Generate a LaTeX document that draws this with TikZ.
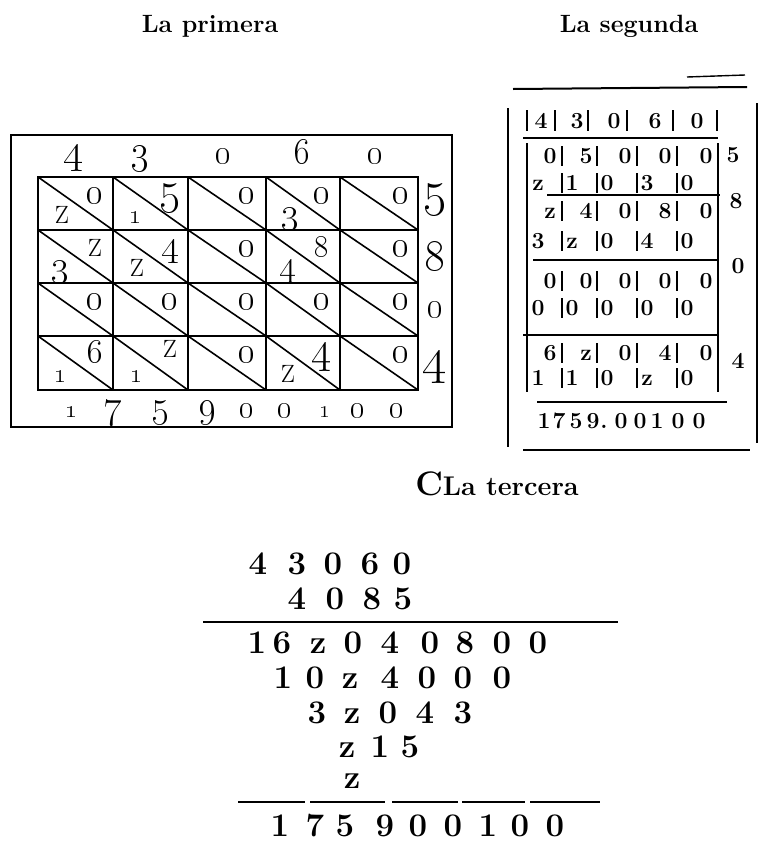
\RequirePackage{fix-cm}
\documentclass[tikz,border=0pt]{standalone}
\newcommand\osn[2]{{\fontsize{#1}{#1}\selectfont\oldstylenums{#2}}}
\tikzset{
  frame/.style={line width=2.6pt,line cap=rect},
  gridl/.style={line width=1.8pt,line cap=rect},
  diag/.style={line width=1.6pt},
  thinl/.style={line width=1.5pt},
  pdig/.style={anchor=base,inner sep=0pt},
  pz/.style={font=\fontsize{25}{25}\selectfont,anchor=base,inner sep=0pt},
  sdig/.style={font=\bfseries\fontsize{23}{23}\selectfont,anchor=base,inner sep=0pt},
  tdig/.style={font=\bfseries\fontsize{33}{33}\selectfont,anchor=base,inner sep=0pt},
  ttl/.style={font=\bfseries\fontsize{25}{25}\selectfont,anchor=base,inner sep=0pt},
}
\begin{document}
\begin{tikzpicture}[x=1pt,y=-1pt]
\useasboundingbox (0,0) rectangle (763,841);
\fill[white] (0,0) rectangle (763,841);

% ---------- titles ----------
\node[ttl] (t1) at (210,32) {La primera};
\node[ttl] (t2) at (629,32) {La segunda};
\node[ttl,font=\bfseries\fontsize{27}{27}\selectfont] (t3) at (497,495) {{\fontsize{34}{34}\selectfont C}La tercera};

% ---------- La primera ----------
\draw[frame] (11,135) rectangle (452,427);
\foreach \x in {38,113,188,266,340,418} \draw[gridl] (\x,177) -- (\x,390);
\foreach \y in {177,230,283,336,390} \draw[gridl] (38,\y) -- (418,\y);
\foreach \a/\b in {38/113,113/188,188/266,266/340,340/418}
  \foreach \c/\d in {177/230,230/283,283/336,336/390}
    \draw[diag] (\a,\c) -- (\b,\d);

\foreach \x/\s/\t [count=\i] in {73/42/4,140/40/3,223/34/0,302/36/6,375/34/0}
  \node[pdig] (pt\i) at (\x,163) {\osn{\s}{\t}};
\foreach \y/\s/\t [count=\i] in {205/50/5,270/44/8,317/36/0,373/52/4}
  \node[pdig] (pr\i) at (435,\y) {\osn{\s}{\t}};
\foreach \x/\s/\t [count=\i] in {72/26/1,113/40/7,160/38/5,207/38/9,247/31/0,285/31/0,325/24/1,358/31/0,397/31/0}
  \node[pdig] (pb\i) at (\x,417) {\osn{\s}{\t}};

% upper (units) digits
\foreach \x/\y/\s/\t [count=\i] in {
  95/203/35/0,170/203/46/5,247/203/35/0,322/203/35/0,401/203/35/0,
  170/256/38/4,247/256/35/0,322/256/30/8,401/256/35/0,
  95/309/35/0,170/309/35/0,247/309/35/0,322/309/35/0,401/309/35/0,
  95/362/33/6,247/362/35/0,322/362/44/4,401/362/35/0}
  \node[pdig] (pu\i) at (\x,\y) {\osn{\s}{\t}};
% lower (tens) digits
\foreach \x/\y/\s/\t [count=\i] in {
  135/223/28/1,290/223/37/3,
  60/276/37/3,288/276/37/4,
  60/382/28/1,136/382/28/1}
  \node[pdig] (pl\i) at (\x,\y) {\osn{\s}{\t}};
% the z-shaped twos
\foreach \x/\y [count=\i] in {62/223,95/256,137/276,170/357,288/382}
  \node[pz] (pz\i) at (\x,\y) {Z};

% ---------- La segunda ----------
\draw[line width=2pt] (513,89) -- (747,87);
\draw[line width=1.4pt] (687,77) -- (745,75);
\draw[line width=2pt] (508,108) -- (508,447);
\draw[line width=2pt] (757,103) -- (757,443);
\draw[line width=2pt] (523,450) -- (750,450);

\foreach \x in {527,555,588,627,673,717} \draw[thinl] (\x,110) -- (\x,131);
\foreach \x/\t [count=\i] in {541/4,577/3,614/0,655/6,697/0}
  \node[sdig] (st\i) at (\x,128) {\t};
\draw[thinl] (523,138) -- (718,138);
\draw[thinl] (547,195) -- (720,195);
\draw[thinl] (533,260) -- (717,260);
\draw[thinl] (523,335) -- (717,335);
\draw[thinl] (537,402) -- (727,402);
\draw[thinl] (527,143) -- (527,392);
\draw[thinl] (718,143) -- (718,392);
\foreach \yb in {163,190,218,248,288,315,360,385}
  \foreach \x in {562,597,637,677}
    \draw[thinl] (\x,\yb-17) -- (\x,\yb+3);

% upper rows
\foreach \x/\a/\b/\c/\d [count=\j] in {550/0/z/0/6,586/5/4/0/z,625/0/0/0/0,665/0/8/0/4,706/0/0/0/0} {
  \node[sdig] (su1-\j) at (\x,163) {\a};
  \node[sdig] (su2-\j) at (\x,218) {\b};
  \node[sdig] (su3-\j) at (\x,288) {\c};
  \node[sdig] (su4-\j) at (\x,360) {\d};
}
% lower rows
\foreach \x/\a/\b/\c/\d [count=\j] in {538/z/3/0/1,572/1/z/0/1,607/0/0/0/0,647/3/4/0/z,687/0/0/0/0} {
  \node[sdig] (sl1-\j) at (\x,190) {\a};
  \node[sdig] (sl2-\j) at (\x,248) {\b};
  \node[sdig] (sl3-\j) at (\x,315) {\c};
  \node[sdig] (sl4-\j) at (\x,385) {\d};
}
\foreach \x/\y/\t [count=\i] in {733/162/5,736/208/8,738/273/0,738/368/4}
  \node[sdig] (sm\i) at (\x,\y) {\t};
\foreach \x/\t [count=\i] in {544/1,559/7,576/5,593/9,604/.,621/0,640/0,657/1,678/0,699/0}
  \node[sdig] (sp\i) at (\x,428) {\t};

% ---------- La tercera ----------
\foreach \x/\t [count=\i] in {258/4,297/3,333/0,370/6,402/0}
  \node[tdig] (ta\i) at (\x,574) {\t};
\foreach \x/\t [count=\i] in {297/4,335/0,372/8,403/5}
  \node[tdig] (tb\i) at (\x,609) {\t};
\draw[line width=1.8pt] (203,622) -- (618,622);
\foreach \x/\t [count=\i] in {257/1,282/6,318/z,353/0,390/4,430/0,465/8,502/0,538/0}
  \node[tdig] (tc\i) at (\x,653) {\t};
\foreach \x/\t [count=\i] in {283/1,315/0,350/z,390/4,427/0,463/0,502/0}
  \node[tdig] (td\i) at (\x,688) {\t};
\foreach \x/\t [count=\i] in {317/3,352/z,388/0,425/4,463/3}
  \node[tdig] (te\i) at (\x,723) {\t};
\foreach \x/\t [count=\i] in {347/z,380/1,410/5}
  \node[tdig] (tf\i) at (\x,757) {\t};
\node[tdig] (tg1) at (352,788) {z};
\foreach \a/\b in {238/305,310/385,392/458,462/525,530/600}
  \draw[line width=1.8pt] (\a,802) -- (\b,802);
\foreach \x/\t [count=\i] in {280/1,315/7,345/5,385/9,418/0,453/0,488/1,520/0,555/0}
  \node[tdig] (th\i) at (\x,836) {\t};
\end{tikzpicture}
\end{document}
